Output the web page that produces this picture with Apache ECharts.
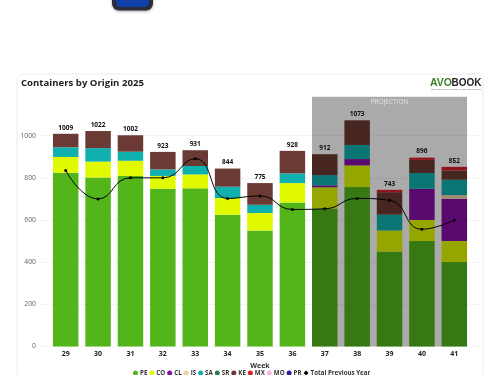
<!DOCTYPE html>
<html>
<head>
<meta charset="utf-8">
<style>
  html, body { margin: 0; padding: 0; background: #fff; overflow: hidden; }
  #chart { width: 500px; height: 375px; }
</style>
<script src="https://cdn.jsdelivr.net/npm/echarts@6/dist/echarts.min.js"></script>
</head>
<body>
<div id="chart"></div>
<script>
const weeks = ['29', '30', '31', '32', '33', '34', '35', '36', '37', '38', '39', '40', '41'];
const pe = [824, 802, 809, 748, 750, 625, 550, 683, 655, 756, 450, 500, 400];
const co = [75, 75, 72, 61, 66, 79, 83, 92, 100, 103, 100, 100, 100];
const cl = [0, 0, 0, 0, 0, 0, 0, 0, 9, 30, 0, 148, 200];
const is_ = [0, 0, 0, 0, 0, 0, 0, 0, 0, 0, 0, 0, 18];
const sa = [46, 64, 43, 31, 40, 54, 39, 46, 49, 67, 75, 75, 73];
const sr = [0, 0, 0, 0, 0, 0, 0, 0, 0, 0, 0, 0, 0];
const ke = [64, 81, 78, 83, 75, 86, 103, 107, 99, 117, 107, 62, 44];
const mx = [0, 0, 0, 0, 0, 0, 0, 0, 0, 0, 11, 11, 17];
const mo = [0, 0, 0, 0, 0, 0, 0, 0, 0, 0, 0, 0, 0];
const pr = [0, 0, 0, 0, 0, 0, 0, 0, 0, 0, 0, 0, 0];
const totals = [1009, 1022, 1002, 923, 931, 844, 775, 928, 912, 1073, 743, 896, 852];
const previousYear = [835, 700, 800, 800, 891, 702, 714, 650, 653, 702, 693, 556, 600];
const projectionWeeks = ['37', '41'];

const FONT = '"Open Sans", "Noto Sans", sans-serif';
const YMAX = 1185;
const BAR_WIDTH = 25.5;

const origins = [
    { name: 'PE', data: pe, color: '#52b61b' },
    { name: 'CO', data: co, color: '#e2fa00' },
    { name: 'CL', data: cl, color: '#880fa6' },
    { name: 'IS', data: is_, color: '#f3cfae' },
    { name: 'SA', data: sa, color: '#0fb0ad' },
    { name: 'SR', data: sr, color: '#2f7d4f' },
    { name: 'KE', data: ke, color: '#6b3a34' },
    { name: 'MX', data: mx, color: '#d81f2a' },
    { name: 'MO', data: mo, color: '#f0b8dc' },
    { name: 'PR', data: pr, color: '#3a1a9c' }
];

const barSeries = origins.map(function (o) {
    return {
        name: o.name,
        type: 'bar',
        stack: 'total',
        barWidth: BAR_WIDTH,
        itemStyle: { color: o.color },
        z: 2,
        data: o.data
    };
});

const chart = echarts.init(document.getElementById('chart'), null, { renderer: 'canvas' });

chart.setOption({
    animation: false,
    textStyle: { fontFamily: FONT },
    title: {
        text: 'Containers by Origin 2025',
        left: 21,
        top: 78,
        padding: 0,
        textStyle: { fontFamily: FONT, fontSize: 9.6, fontWeight: 'bold', color: '#222' }
    },
    legend: {
        data: origins.map(function (o) { return { name: o.name, icon: 'circle' }; })
            .concat([{ name: 'Total Previous Year', icon: 'diamond' }]),
        left: 133,
        top: 370,
        padding: 0,
        itemWidth: 5,
        itemHeight: 5,
        itemGap: 2,
        textStyle: { fontFamily: FONT, fontSize: 6.2, fontWeight: 'bold', color: '#333', padding: [0, 0, 0, -3] }
    },
    grid: [
        { left: 49.5, right: 29.5, top: 96.7, height: 249.7 },
        { left: 40, right: 20, top: 96.7, height: 249.7 }
    ],
    xAxis: [
        {
            type: 'category',
            data: weeks,
            gridIndex: 0,
            axisLine: { show: false },
            axisTick: { show: false },
            axisLabel: { fontFamily: FONT, fontSize: 7, fontWeight: 'bold', color: '#222', margin: 4 },
            name: 'Week',
            nameLocation: 'middle',
            nameGap: 12,
            nameTextStyle: { fontFamily: FONT, fontSize: 7, fontWeight: 'bold', color: '#333' }
        },
        { type: 'category', data: weeks, gridIndex: 1, show: false }
    ],
    yAxis: [
        { type: 'value', min: 0, max: YMAX, interval: 200, gridIndex: 0, show: false, splitLine: { show: false } },
        {
            type: 'value',
            min: 0,
            max: YMAX,
            interval: 200,
            gridIndex: 1,
            axisLine: { show: false },
            axisTick: { show: false },
            axisLabel: {
                fontFamily: FONT,
                fontSize: 6.8,
                color: '#666',
                margin: 4,
                showMaxLabel: false,
                formatter: function (v) { return String(v); }
            },
            splitLine: { show: true, showMaxLine: false, lineStyle: { color: '#efefef', width: 1, type: [2, 1] } }
        }
    ],
    series: barSeries.concat([
        {
            // grey projection band, laid over the bars so it darkens them
            name: 'Projection',
            type: 'custom',
            z: 3,
            silent: true,
            data: [[weeks.indexOf(projectionWeeks[0]), weeks.indexOf(projectionWeeks[1]), YMAX]],
            encode: { x: [0, 1], y: 2 },
            renderItem: function (params, api) {
                const a = api.coord([api.value(0), 0]);
                const b = api.coord([api.value(1), api.value(2)]);
                const x = a[0] - BAR_WIDTH / 2;
                const w = b[0] + BAR_WIDTH / 2 - x;
                return {
                    type: 'group',
                    children: [
                        {
                            type: 'rect',
                            shape: { x: x, y: b[1], width: w, height: a[1] - b[1] },
                            style: { fill: 'rgba(0,0,0,0.335)' }
                        },
                        {
                            type: 'text',
                            style: {
                                x: x + w / 2,
                                y: b[1] + 5,
                                text: 'PROJECTION',
                                fill: '#e4e4e4',
                                font: '6.5px ' + FONT,
                                align: 'center',
                                verticalAlign: 'middle'
                            }
                        }
                    ]
                };
            }
        },
        {
            name: 'Total Previous Year',
            type: 'line',
            smooth: 0.5,
            z: 4,
            symbol: 'circle',
            symbolSize: 3,
            itemStyle: { color: '#000' },
            lineStyle: { color: '#000', width: 1 },
            data: previousYear
        },
        {
            name: 'Totals',
            type: 'line',
            z: 5,
            symbol: 'circle',
            symbolSize: 1,
            showAllSymbol: true,
            silent: true,
            itemStyle: { color: 'transparent' },
            lineStyle: { width: 0, color: 'transparent' },
            label: {
                show: true,
                position: 'top',
                distance: 2,
                fontFamily: FONT,
                fontSize: 6.5,
                fontWeight: 'bold',
                color: '#111'
            },
            data: totals
        }
    ]),
    graphic: [
        {
            type: 'rect', silent: true, z: -10,
            shape: { x: 17, y: 74, width: 466, height: 340, r: 6 },
            style: { fill: '#fff', stroke: '#ececec', lineWidth: 1 }
        },
        {
            type: 'rect', silent: true, z: 10,
            shape: { x: 112, y: -14, width: 41, height: 24.5, r: 7 },
            style: { fill: '#2b2d3a', shadowBlur: 3, shadowColor: 'rgba(0,0,0,0.35)', shadowOffsetY: 1 }
        },
        {
            type: 'rect', silent: true, z: 11,
            shape: { x: 116, y: -14, width: 33, height: 21, r: 5 },
            style: { fill: '#0f3fa8' }
        },
        {
            type: 'text', silent: true, z: 10, x: 430, y: 78,
            style: { text: 'AVO', fill: '#3f7f23', font: '800 10.5px "Liberation Sans", ' + FONT }
        },
        {
            type: 'text', silent: true, z: 10, x: 451.5, y: 78,
            style: { text: 'BOOK', fill: '#222', font: '800 10px "Liberation Sans", ' + FONT }
        },
        {
            type: 'text', silent: true, z: 10, x: 431, y: 88,
            style: { text: 'CONNECTING THE GLOBAL AVOCADO MARKET', fill: '#555', font: '2.3px ' + FONT }
        }
    ]
});
</script>
</body>
</html>
